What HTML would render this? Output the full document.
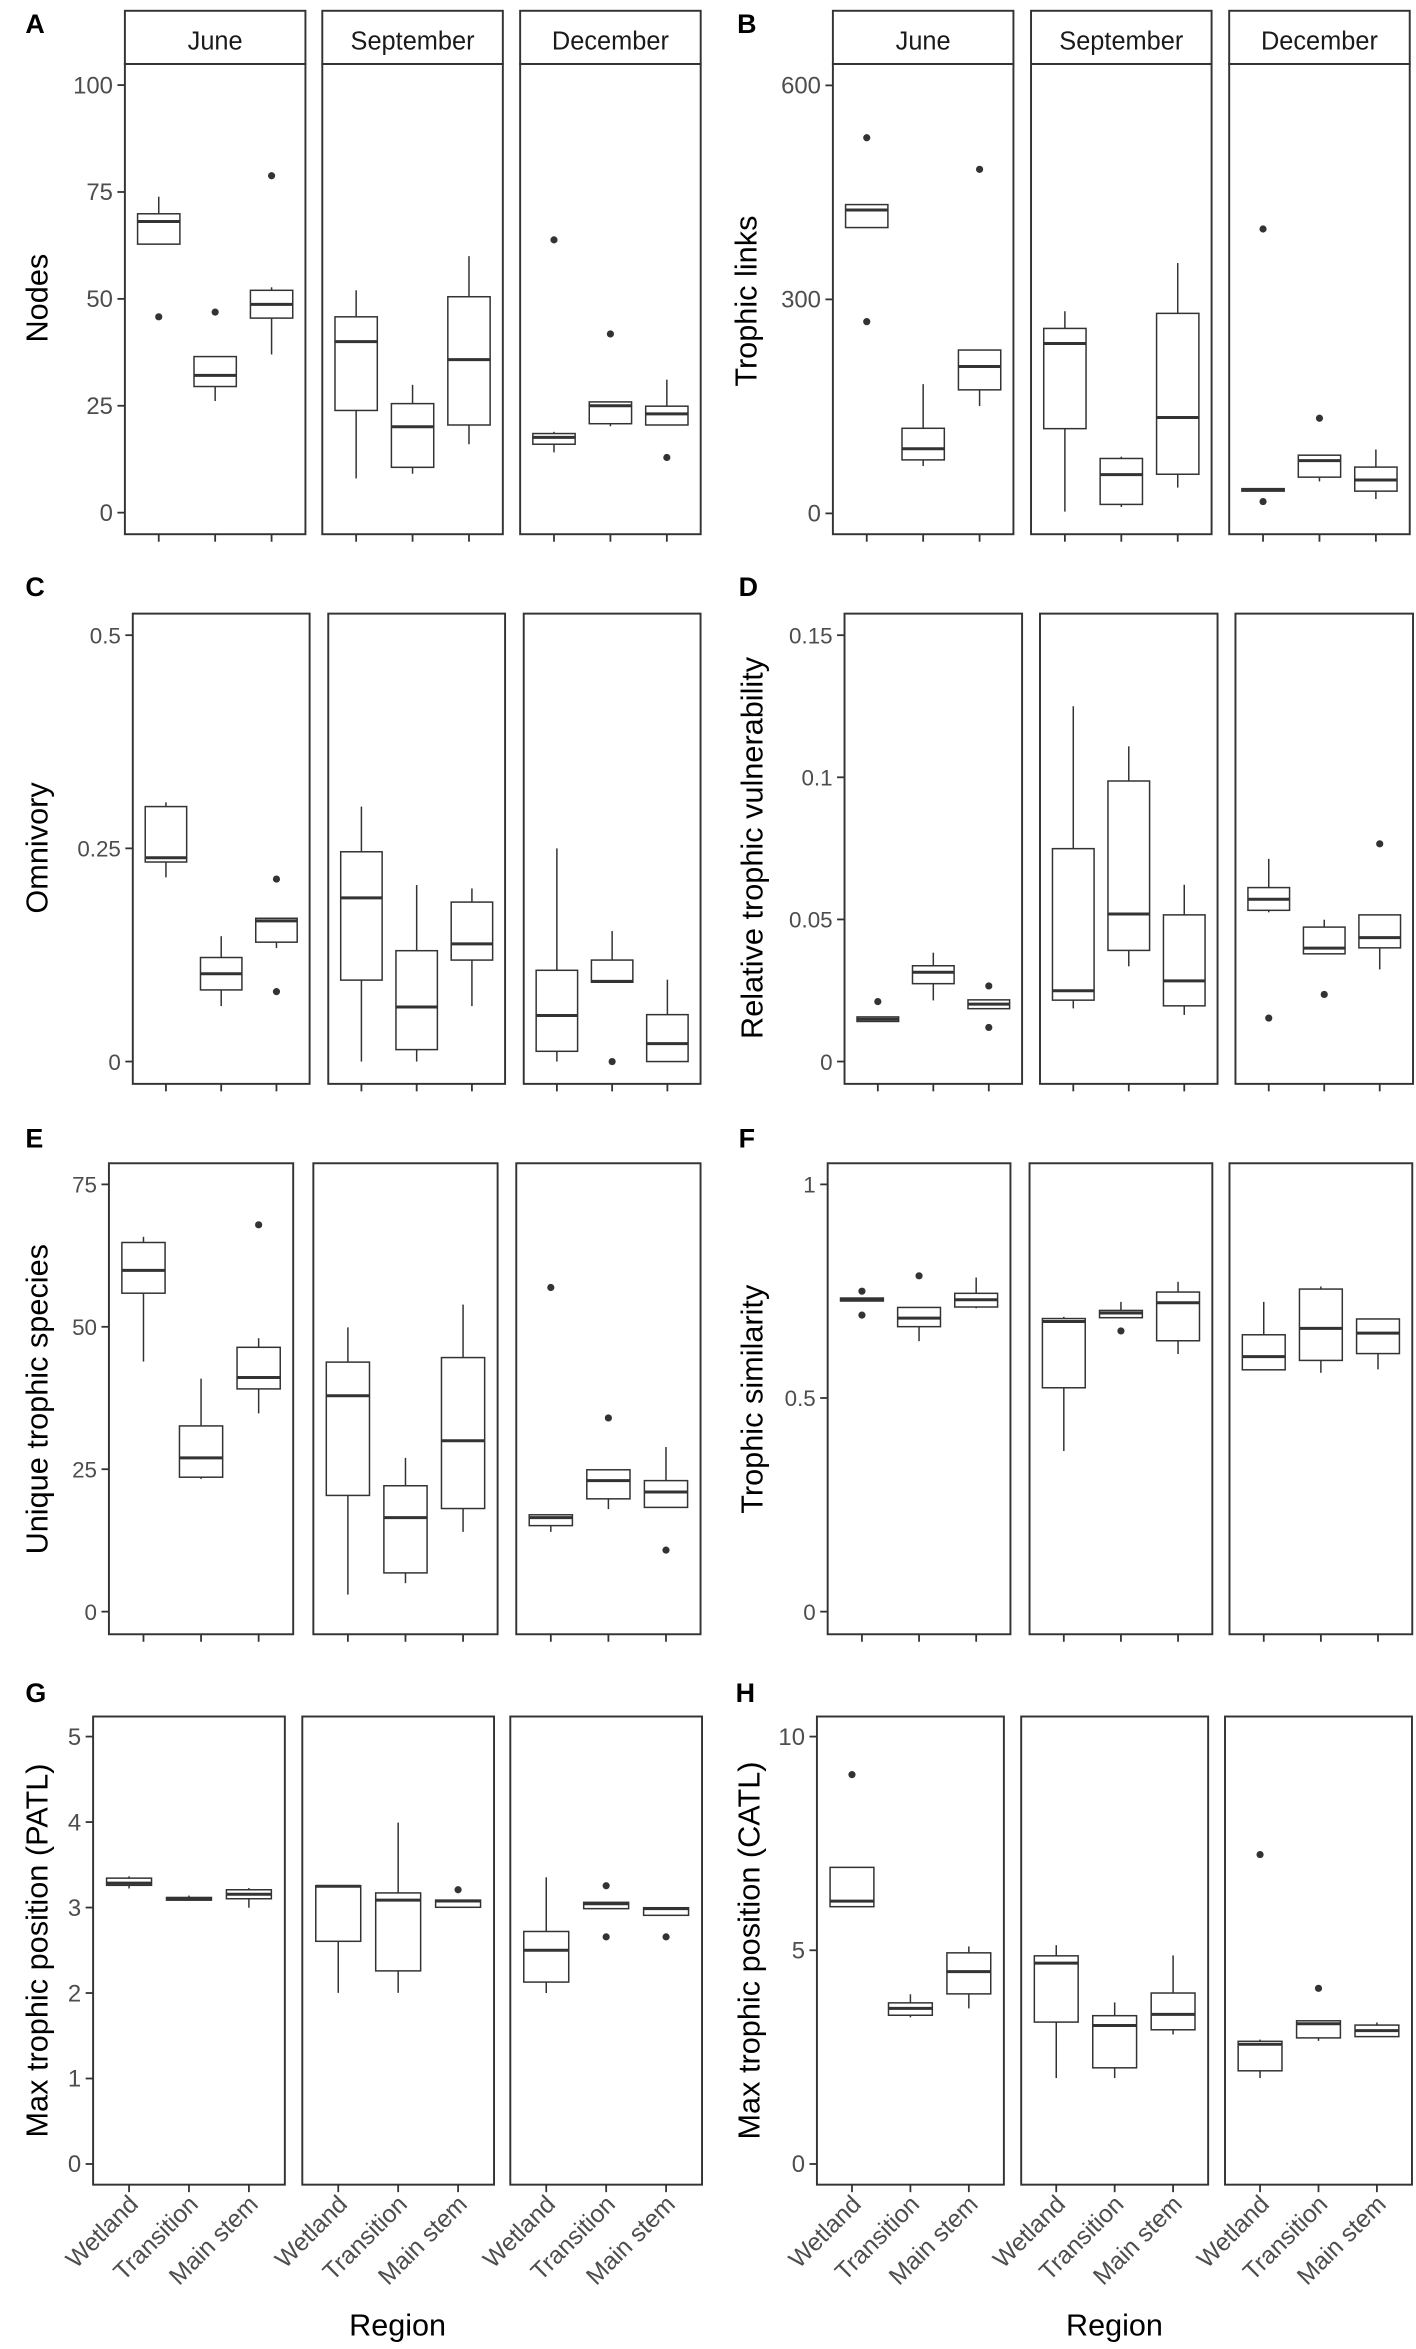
<!DOCTYPE html>
<html><head><meta charset="utf-8"><style>
html,body{margin:0;padding:0;background:#fff}
svg{display:block}
text{font-family:"Liberation Sans",Arial,sans-serif}
</style></head><body>
<svg id="fig" width="1416" height="2349" viewBox="0 0 949 1568" preserveAspectRatio="none" xmlns="http://www.w3.org/2000/svg"></svg>
<script>
const months = ["June","September","December"];
const regions = ["Wetland","Transition","Main stem"];
// each chart: 9 boxes ordered June(W,T,M), Sept(W,T,M), Dec(W,T,M)
const nodesLow  = [62.8,26.1,37, 8,9.1,16, 14.1,20.2,20.5];
const nodesQ1   = [62.8,29.5,45.5, 23.9,10.6,20.5, 16,20.8,20.5];
const nodesMed  = [68.1,32.1,48.7, 40,20.1,35.8, 17.6,25,23.1];
const nodesQ3   = [69.9,36.5,52, 45.8,25.5,50.5, 18.5,25.9,24.9];
const nodesHigh = [73.9,36.5,52.7, 52,29.9,60, 18.9,25.9,31.1];
const nodesOut  = [[45.8],[46.9],[78.8],[],[],[],[63.8],[41.8],[12.9]];

const linksLow  = [400.7,66.4,150.5, 2.5,9,36.2, 31.2,44.8,20.1];
const linksQ1   = [400.7,75,173.2, 118.8,12.6,54.9, 31.2,50.8,31.2];
const linksMed  = [425.4,90.6,205.9, 238.1,54.4,134.4, 33.2,74,46.8];
const linksQ3   = [432.9,119.3,229, 259.3,77,280.4, 34.7,81.6,64.9];
const linksHigh = [432.9,181.2,229, 283.4,79.5,350.9, 34.7,81.6,89.6];
const linksOut  = [[526.6,268.8],[],[482.3],[],[],[],[398.7,16.6],[133.4],[]];

const omnLow  = [0.216,0.065,0.133, 0,0,0.065, 0,0.093,0];
const omnQ1   = [0.234,0.084,0.140, 0.0955,0.014,0.119, 0.012,0.093,0];
const omnMed  = [0.239,0.103,0.165, 0.192,0.064,0.138, 0.054,0.094,0.021];
const omnQ3   = [0.299,0.122,0.168, 0.246,0.130,0.187, 0.107,0.119,0.055];
const omnHigh = [0.304,0.147,0.168, 0.299,0.207,0.203, 0.25,0.153,0.096];
const omnOut  = [[],[],[0.214,0.082],[],[],[],[],[0],[]];

const vulLow  = [0.0141,0.0215,0.0186, 0.0187,0.0335,0.0164, 0.0525,0.0379,0.0324];
const vulQ1   = [0.0141,0.0274,0.0186, 0.0216,0.0391,0.0196, 0.0532,0.0379,0.04];
const vulMed  = [0.0149,0.0314,0.0202, 0.0249,0.0519,0.0284, 0.0571,0.0399,0.0436];
const vulQ3   = [0.0157,0.0337,0.0217, 0.0749,0.0987,0.0516, 0.0612,0.0473,0.0516];
const vulHigh = [0.0157,0.0383,0.0217, 0.125,0.1109,0.0622, 0.0713,0.0499,0.0516];
const vulOut  = [[0.0211],[],[0.0266,0.012],[],[],[],[0.0153],[0.0236],[0.0766]];

const utsLow  = [43.9,23.3,34.8, 3,5,14, 14,18,18.3];
const utsQ1   = [55.9,23.6,39.1, 20.4,6.8,18.1, 15.1,19.8,18.3];
const utsMed  = [59.9,27,41.1, 37.9,16.5,30, 16.5,23,21];
const utsQ3   = [64.8,32.6,46.4, 43.8,22.1,44.6, 17,24.9,23];
const utsHigh = [65.8,40.9,48, 49.9,27,53.9, 17,24.9,28.9];
const utsOut  = [[],[],[67.9],[],[],[],[56.9],[34],[10.8]];

const simLow  = [0.727,0.633,0.710, 0.376,0.688,0.603, 0.566,0.559,0.567];
const simQ1   = [0.727,0.667,0.713, 0.524,0.688,0.634, 0.566,0.588,0.604];
const simMed  = [0.730,0.687,0.730, 0.679,0.699,0.723, 0.597,0.663,0.652];
const simQ3   = [0.734,0.712,0.745, 0.686,0.705,0.748, 0.648,0.755,0.685];
const simHigh = [0.734,0.712,0.782, 0.690,0.725,0.772, 0.725,0.761,0.685];
const simOut  = [[0.750,0.694],[0.786],[],[],[0.657],[],[],[],[]];

const patlLow  = [3.223,3.087,2.998, 2.002,2.002,3.003, 2.0,2.987,2.909];
const patlQ1   = [3.26,3.087,3.103, 2.605,2.259,3.003, 2.128,2.987,2.909];
const patlMed  = [3.286,3.097,3.155, 3.249,3.087,3.076, 2.5,3.045,2.987];
const patlQ3   = [3.344,3.118,3.208, 3.255,3.171,3.087, 2.72,3.061,2.998];
const patlHigh = [3.365,3.14,3.228, 3.255,3.994,3.087, 3.354,3.061,2.998];
const patlOut  = [[],[],[],[],[],[3.208],[],[3.255,2.657],[2.657]];

const catlLow  = [6.02,3.43,3.64, 2.01,2.01,3.03, 2.01,2.88,2.98];
const catlQ1   = [6.02,3.48,3.98, 3.32,2.25,3.14, 2.18,2.95,2.98];
const catlMed  = [6.15,3.64,4.50, 4.70,3.24,3.50, 2.80,3.28,3.12];
const catlQ3   = [6.94,3.77,4.94, 4.87,3.47,4.0, 2.87,3.35,3.25];
const catlHigh = [6.94,3.97,5.09, 5.12,3.78,4.88, 2.91,3.35,3.31];
const catlOut  = [[9.11],[],[],[],[],[],[7.24],[4.11],[]];

const nodesTicks=[0,25,50,75,100], linksTicks=[0,300,600], omnTicks=[0,0.25,0.5],
      vulTicks=[0,0.05,0.1,0.15], utsTicks=[0,25,50,75], simTicks=[0,0.5,1],
      patlTicks=[0,1,2,3,4,5], catlTicks=[0,5,10];

const NS="http://www.w3.org/2000/svg";
const svg=document.getElementById('fig');
function mk(tag,attrs,parent){const e=document.createElementNS(NS,tag);for(const k in attrs)e.setAttribute(k,attrs[k]);(parent||svg).appendChild(e);return e;}

function chart(cfg){
  const g=mk('g',{});
  
  
  const yS=v=>cfg.y0+(cfg.y1-cfg.y0)*(v-0)/(cfg.v1);
  const L=mk('text',{x:cfg.lx,y:cfg.ly,'font-size':18,'font-weight':'bold',fill:'#000'},g);
  L.textContent=cfg.letter;
  
  
  const T=mk('text',{x:0,y:0,'font-size':20.5,fill:'#000','text-anchor':'middle',transform:`translate(${cfg.tx},${cfg.ty}) rotate(-90)`},g);
  T.textContent=cfg.title;
  
  
  cfg.ticks.forEach((t,i)=>{
    const y=yS(t);
    const tk=mk('line',{x1:cfg.lefts[0]-5,x2:cfg.lefts[0],y1:y,y2:y,stroke:'#333','stroke-width':1.2},g);
    
    
    const tl=mk('text',{x:cfg.lefts[0]-8,y:y+5.5,'font-size':cfg.tfs||16,fill:'#4d4d4d','text-anchor':'end'},g);
    tl.textContent=String(t);
    
    
  });
  const unit=cfg.w/3.2;
  cfg.lefts.forEach((lx,p)=>{
    const pg=mk('g',{},g);
    
    
    if(cfg.strip){
      const sr=mk('rect',{x:lx,y:7.2,width:cfg.w,height:35.5,fill:'#fff',stroke:'#333','stroke-width':1.3},pg);
      
      
      const st=mk('text',{x:lx+cfg.w/2,y:33,'font-size':17,fill:'#1a1a1a','text-anchor':'middle'},pg);
      st.textContent=months[p];
      
      
    }
    const fr=mk('rect',{x:lx,y:cfg.top,width:cfg.w,height:cfg.bottom-cfg.top,fill:'none',stroke:'#333','stroke-width':1.3},pg);
    
    
    for(let c=0;c<3;c++){
      const i=p*3+c;
      const cx=lx+unit*(0.6+c);
      const xt=mk('line',{x1:cx,x2:cx,y1:cfg.bottom,y2:cfg.bottom+5,stroke:'#333','stroke-width':1.2},pg);
      
      
      if(cfg.xlabels){
        const xl=mk('text',{x:0,y:0,'font-size':16.5,fill:'#4d4d4d','text-anchor':'end',transform:`translate(${cx+7},${cfg.bottom+14}) rotate(-45)`},pg);
        xl.textContent=regions[c];
        
        
      }
      const bg=mk('g',{},pg);
      
      
      const bw=unit*0.75, x0=cx-bw/2;
      const lo=cfg.low[i],q1=cfg.q1[i],md=cfg.med[i],q3=cfg.q3[i],hi=cfg.high[i];
      const w1=mk('line',{x1:cx,x2:cx,y1:yS(q3),y2:yS(hi),stroke:'#333','stroke-width':1},bg);
      
      
      const w2=mk('line',{x1:cx,x2:cx,y1:yS(q1),y2:yS(lo),stroke:'#333','stroke-width':1},bg);
      
      
      const r=mk('rect',{x:x0,y:yS(q3),width:bw,height:Math.max(0.5,yS(q1)-yS(q3)),fill:'#fff',stroke:'#333','stroke-width':1},bg);
      
      
      const m=mk('line',{x1:x0,x2:x0+bw,y1:yS(md),y2:yS(md),stroke:'#333','stroke-width':2},bg);
      
      
      cfg.out[i].forEach(v=>{
        const o=mk('circle',{cx:cx,cy:yS(v),r:2.4,fill:'#333'},bg);
        
        
      });
    }
  });
  if(cfg.xlabels){
    const rx=mk('text',{x:(cfg.lefts[0]+cfg.lefts[2]+cfg.w)/2,y:1559,'font-size':20.5,fill:'#000','text-anchor':'middle'},g);
    rx.textContent='Region';
    
    
  }
}

chart({name:'chart-a-nodes',letter:'A',lx:17,ly:22,title:'Nodes',tx:32,ty:199,lefts:[83.7,216,348.6],w:121,top:42.7,bottom:356.6,y0:342.2,y1:56.8,v1:100,ticks:nodesTicks,strip:true,low:nodesLow,q1:nodesQ1,med:nodesMed,q3:nodesQ3,high:nodesHigh,out:nodesOut});
chart({name:'chart-b-trophic-links',letter:'B',lx:494,ly:22,title:'Trophic links',tx:507,ty:201,lefts:[558.2,691,823.8],w:121,top:42.7,bottom:356.6,y0:342.7,y1:57,v1:600,ticks:linksTicks,strip:true,low:linksLow,q1:linksQ1,med:linksMed,q3:linksQ3,high:linksHigh,out:linksOut});
chart({name:'chart-c-omnivory',letter:'C',lx:17,ly:398,title:'Omnivory',tx:32,ty:566,lefts:[89,220,351],w:118.5,top:409.6,bottom:723.5,y0:708.6,y1:424,v1:0.5,ticks:omnTicks,tfs:15,low:omnLow,q1:omnQ1,med:omnMed,q3:omnQ3,high:omnHigh,out:omnOut});
chart({name:'chart-d-vulnerability',letter:'D',lx:495,ly:398,title:'Relative trophic vulnerability',tx:511,ty:566,lefts:[566,697,828],w:119,top:409.6,bottom:723.5,y0:708.6,y1:424,v1:0.15,ticks:vulTicks,tfs:15,low:vulLow,q1:vulQ1,med:vulMed,q3:vulQ3,high:vulHigh,out:vulOut});
chart({name:'chart-e-unique-species',letter:'E',lx:17,ly:766,title:'Unique trophic species',tx:32,ty:934,lefts:[73,210,346],w:123.5,top:776.5,bottom:1090.9,y0:1075.8,y1:790.6,v1:75,ticks:utsTicks,tfs:15,low:utsLow,q1:utsQ1,med:utsMed,q3:utsQ3,high:utsHigh,out:utsOut});
chart({name:'chart-f-similarity',letter:'F',lx:495,ly:766,title:'Trophic similarity',tx:511,ty:934,lefts:[554.7,690,824],w:122.5,top:776.5,bottom:1090.9,y0:1075.8,y1:790.6,v1:1,ticks:simTicks,tfs:15,low:simLow,q1:simQ1,med:simMed,q3:simQ3,high:simHigh,out:simOut});
chart({name:'chart-g-patl',letter:'G',lx:17,ly:1136,title:'Max trophic position (PATL)',tx:32,ty:1302,lefts:[62.4,202.6,342],w:128.5,top:1145.8,bottom:1458.3,y0:1444.5,y1:1159.2,v1:5,ticks:patlTicks,xlabels:true,low:patlLow,q1:patlQ1,med:patlMed,q3:patlQ3,high:patlHigh,out:patlOut});
chart({name:'chart-h-catl',letter:'H',lx:493,ly:1136,title:'Max trophic position (CATL)',tx:509,ty:1302,lefts:[547.5,684.4,821],w:125.3,top:1145.8,bottom:1458.3,y0:1444.5,y1:1159.2,v1:10,ticks:catlTicks,xlabels:true,low:catlLow,q1:catlQ1,med:catlMed,q3:catlQ3,high:catlHigh,out:catlOut});
</script>
</body></html>
